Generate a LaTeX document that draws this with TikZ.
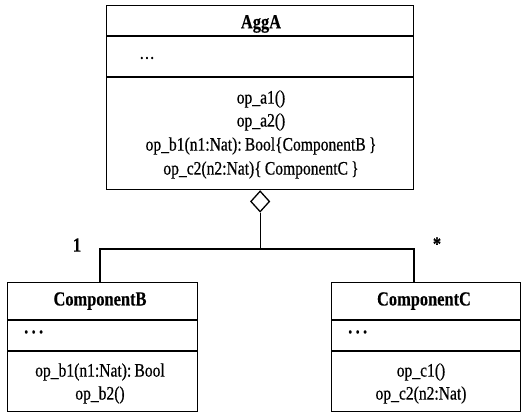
\documentclass[tikz,border=0pt]{standalone}
\usepackage{fontspec}
\setmainfont{Liberation Serif}[FakeStretch=0.82, UprightFeatures={FakeBold=0.6}, BoldFeatures={FakeBold=0.4}]
\usetikzlibrary{shapes.geometric}
\tikzset{
  umlbox/.style={draw, line width=1.3pt, rectangle, inner sep=0pt, anchor=north west},
  sepline/.style={line width=1.3pt},
  conn/.style={line width=1.3pt},
  txt/.style={inner sep=0pt, font=\fontsize{19}{22}\selectfont},
  ttl/.style={inner sep=0pt, font=\fontsize{20}{23}\selectfont\bfseries},
  aggdiamond/.style={diamond, draw, fill=white, line width=1.3pt, inner sep=0pt, minimum width=19pt, minimum height=21pt}
}
\begin{document}
\begin{tikzpicture}[x=1pt,y=-1pt]
\useasboundingbox (0,0) rectangle (523,414);
% AggA
\node[umlbox, minimum width=307pt, minimum height=184pt] (aggA) at (106,5) {};
\draw[sepline] (106,36) -- (413,36);
\draw[sepline] (106,77) -- (413,77);
\node[ttl] (aggAname) at (261,24) {AggA};
\node[txt, anchor=west] (aggAattr) at (139,58) {\ldots};
\node[txt] (opa1) at (261,99) {op\_a1()};
\node[txt] (opa2) at (261,122) {op\_a2()};
\node[txt] (opb1) at (261,146) {op\_b1(n1:Nat):\,Bool\{ComponentB\,\}};
\node[txt] (opc2) at (261,170) {op\_c2(n2:Nat)\{\,ComponentC\,\}};
% diamond
\node[aggdiamond, anchor=north] (dia) at (aggA.south) {};
% ComponentB
\node[umlbox, minimum width=190pt, minimum height=129pt] (cB) at (7,282) {};
\draw[sepline] (7,320) -- (197,320);
\draw[sepline] (7,351) -- (197,351);
\node[ttl] (cBname) at (100,301) {ComponentB};
\node[ttl, anchor=west] (cBattr) at (24,332) {.\,.\,.};
\node[txt] (opb1b) at (100,372) {op\_b1(n1:Nat):\,Bool};
\node[txt] (opb2) at (100,395) {op\_b2()};
% ComponentC
\node[umlbox, minimum width=189pt, minimum height=129pt] (cC) at (331,282) {};
\draw[sepline] (331,320) -- (520,320);
\draw[sepline] (331,351) -- (520,351);
\node[ttl] (cCname) at (424,301) {ComponentC};
\node[ttl, anchor=west] (cCattr) at (348,332) {.\,.\,.};
\node[txt] (opc1) at (421,372) {op\_c1()};
\node[txt] (opc2b) at (421,395) {op\_c2(n2:Nat)};
% connectors
\coordinate (jl) at (100,249);
\coordinate (jr) at (414,249);
\draw[conn] (dia.south) |- (jl) -- (jl |- cB.north);
\draw[conn] (dia.south) |- (jr) -- (jr |- cC.north);
\node[ttl] (mulB) at (77,245) {1};
\node[ttl] (mulC) at (437,244) {*};
\end{tikzpicture}
\end{document}
